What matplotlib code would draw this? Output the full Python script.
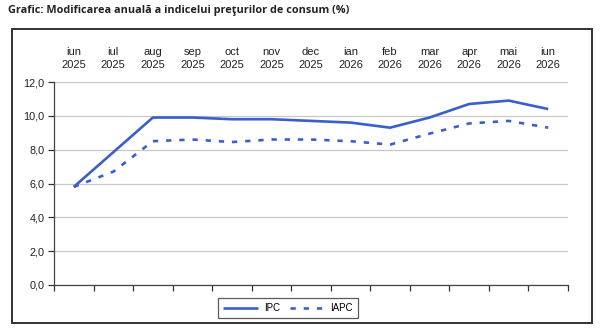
import matplotlib
matplotlib.use('Agg')
import matplotlib.pyplot as plt
from matplotlib.patches import Rectangle
from matplotlib.ticker import FixedLocator

months = ['iun\n2025', 'iul\n2025', 'aug\n2025', 'sep\n2025', 'oct\n2025', 'nov\n2025',
          'dec\n2025', 'ian\n2026', 'feb\n2026', 'mar\n2026', 'apr\n2026', 'mai\n2026',
          'iun\n2026']
ipc = [5.8, 7.85, 9.9, 9.9, 9.8, 9.8, 9.7, 9.6, 9.3, 9.9, 10.7, 10.9, 10.4]
iapc = [5.8, 6.7, 8.5, 8.6, 8.45, 8.6, 8.6, 8.5, 8.3, 8.95, 9.55, 9.7, 9.3]
yticks = [0, 2, 4, 6, 8, 10, 12]

blue = '#3a5fcd'
plt.rcParams['font.family'] = ['Liberation Sans', 'DejaVu Sans']

fig = plt.figure(figsize=(6, 3.28), dpi=100)
ax = fig.add_axes([54/600, 43/328, 514/600, 203/328])

x = list(range(len(months)))
ax.plot(x, ipc, color=blue, lw=1.9, label='IPC', solid_capstyle='butt')
ax.plot(x, iapc, color=blue, lw=1.9, ls=(0, (2.0, 3.0)), label='IAPC')

ax.set_xlim(-0.5, len(months) - 0.5)
ax.set_ylim(0, 12)
ax.set_yticks(yticks)
ax.set_yticklabels([f'{v:.1f}'.replace('.', ',') for v in yticks], fontsize=7.8, color='#222222')
ax.yaxis.grid(True, color='#c8c8c8', lw=0.9)
ax.set_axisbelow(True)

ax.set_xticks(x)
ax.set_xticklabels(months, fontsize=8, color='#222222', linespacing=1.45)
ax.tick_params(axis='x', which='major', top=False, bottom=False, labeltop=True,
               labelbottom=False, pad=5)
ax.xaxis.set_minor_locator(FixedLocator([i - 0.5 for i in range(len(months) + 1)]))
ax.tick_params(axis='x', which='minor', bottom=True, direction='out', length=4,
               width=0.9, color='#333333')
ax.tick_params(axis='y', direction='out', length=4, width=0.9, color='#333333', pad=3)

for s in ['top', 'right']:
    ax.spines[s].set_visible(False)
for s in ['left', 'bottom']:
    ax.spines[s].set_color('#444444')
    ax.spines[s].set_linewidth(0.9)

leg = ax.legend(loc='center', bbox_to_anchor=(288/600, 20/328), bbox_transform=fig.transFigure,
                ncol=2, fontsize=7, frameon=True, fancybox=False, edgecolor='#333333',
                handlelength=3.6, columnspacing=1.0, borderpad=0.5, handletextpad=0.6)
leg.get_frame().set_linewidth(0.9)

fig.patches.append(Rectangle((12/600, 5/328), 580/600, 294/328, transform=fig.transFigure,
                             fill=False, edgecolor='#333333', lw=1.4))

fig.text(8/600, 1 - 11/328, 'Grafic: Modificarea anuală a indicelui preţurilor de consum (%)',
         fontsize=7.8, fontweight='bold', va='center', ha='left', color='#222222',
         family=['Open Sans', 'DejaVu Sans'])

fig.savefig('out.png', dpi=100)
